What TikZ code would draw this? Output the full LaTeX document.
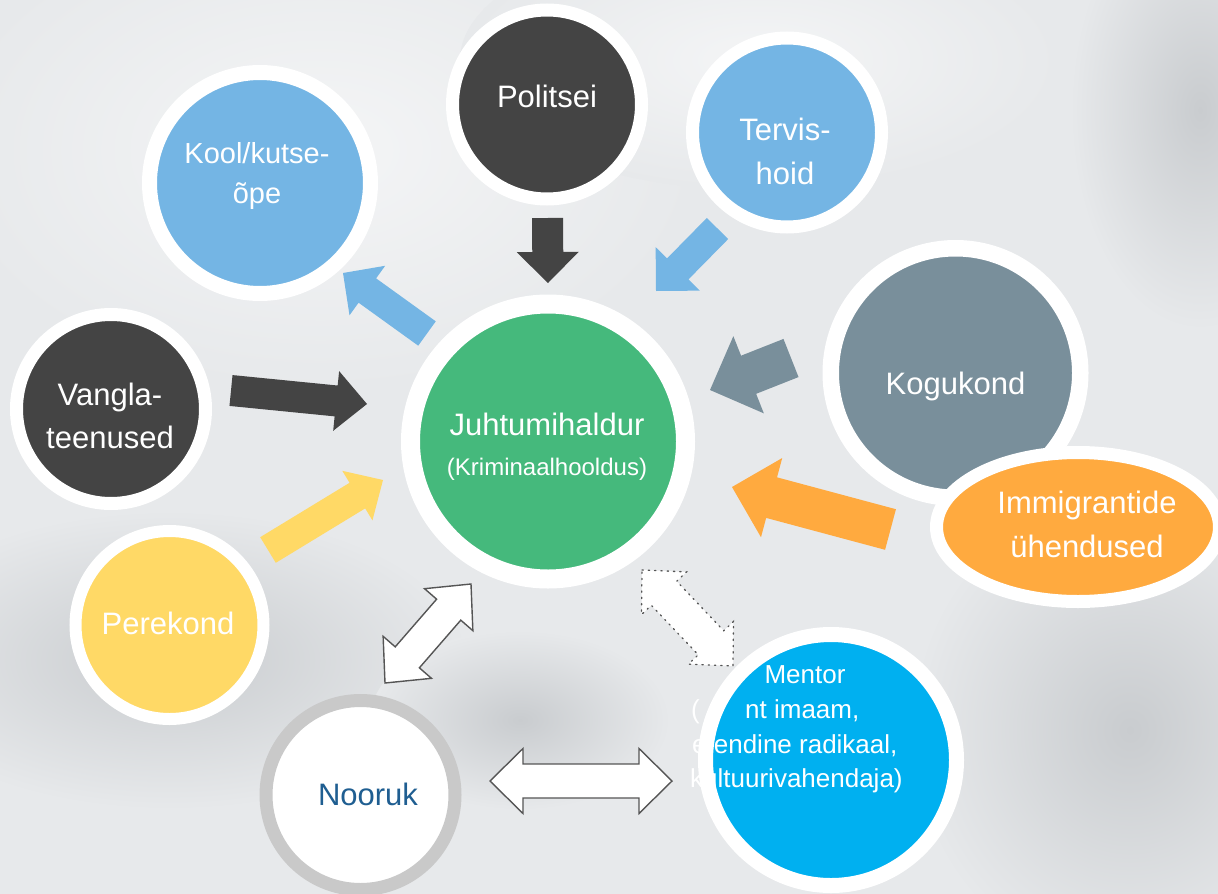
\documentclass[tikz,border=0pt]{standalone}
\usepackage{fontspec}
\setmainfont{Liberation Sans}
\usetikzlibrary{calc,shapes.geometric}
\definecolor{cdark}{HTML}{444444}
\definecolor{cblue}{HTML}{74B5E4}
\definecolor{cgreen}{HTML}{45B97C}
\definecolor{cslate}{HTML}{798F9B}
\definecolor{corange}{HTML}{FFAA3F}
\definecolor{cyellow}{HTML}{FFD966}
\definecolor{cmentor}{HTML}{00B0F0}
\definecolor{cnavy}{HTML}{1F5E91}
\definecolor{cring}{HTML}{C9C9C9}
\definecolor{cbg}{HTML}{E7E9EB}
\definecolor{cline}{HTML}{555555}
\definecolor{clight}{HTML}{F4F5F6}
\definecolor{cshadow}{HTML}{C9CCCF}
\newcommand\blockarr[6]{%
  \coordinate (bhA) at ($(#3)!#6!(#2)$);
  \path[#1] ($(#2)!#4!90:(#3)$) -- ($(bhA)!#4!90:(#3)$) -- ($(bhA)!#5!90:(#3)$) -- (#3)
    -- ($(bhA)!#5!-90:(#3)$) -- ($(bhA)!#4!-90:(#3)$) -- ($(#2)!#4!-90:(#3)$) -- cycle;
}
\newcommand\dblarr[6]{%
  \coordinate (bhA) at ($(#2)!#6!(#3)$);
  \coordinate (bhB) at ($(#3)!#6!(#2)$);
  \path[#1] (#2) -- ($(bhA)!#5!90:(#3)$) -- ($(bhA)!#4!90:(#3)$) -- ($(bhB)!#4!90:(#3)$)
    -- ($(bhB)!#5!90:(#3)$) -- (#3) -- ($(bhB)!#5!-90:(#3)$) -- ($(bhB)!#4!-90:(#3)$)
    -- ($(bhA)!#4!-90:(#3)$) -- ($(bhA)!#5!-90:(#3)$) -- cycle;
}
\tikzset{
  ringed/.style args={#1/#2/#3}{circle, fill=#1, draw=white, line width=#3pt, inner sep=0pt, minimum size=#2pt},
  txt/.style={text=white, inner sep=0pt, anchor=base, font=\fontsize{31}{37}\selectfont},
  stxt/.style={text=white, inner sep=0pt, anchor=base, font=\fontsize{26}{31}\selectfont},
  solidarr/.style={fill=#1},
  hollowarr/.style={fill=white, draw=cline, line width=1.4pt, line join=miter},
  dotarr/.style={fill=white, draw=cline, line width=1.3pt, dash pattern=on 1.3pt off 5pt, line cap=round},
  softlight/.style={inner color=clight, outer color=cbg},
  softdark/.style={inner color=cshadow, outer color=cbg},
}
\begin{document}
\begin{tikzpicture}[x=1pt,y=-1pt]
\useasboundingbox (0,0) rectangle (1218,894);
\clip (0,0) rectangle (1218,894);
% background (soft photo-like shading)
\fill[cbg] (0,0) rectangle (1218,894);
\shade[softlight] (320,150) ellipse [x radius=380, y radius=240];
\shade[softlight] (760,60) ellipse [x radius=300, y radius=130];
\shade[softdark] (170,660) ellipse [x radius=300, y radius=150];
\shade[softdark] (1130,730) ellipse [x radius=220, y radius=240];
\shade[softdark] (1200,110) ellipse [x radius=130, y radius=220];
\shade[softdark] (520,720) ellipse [x radius=150, y radius=90];

% arrow coordinates
\coordinate (aPolT) at (547.5,218);  \coordinate (aPolH) at (548,283);
\coordinate (aTerT) at (717.5,228.5); \coordinate (aTerH) at (656,291);
\coordinate (aKooT) at (427,333.5);  \coordinate (aKooH) at (343,273);
\coordinate (aVanT) at (231,390.5);  \coordinate (aVanH) at (367,404);
\coordinate (aPerT) at (268,550);    \coordinate (aPerH) at (383,480);
\coordinate (aKogT) at (791,358);    \coordinate (aKogH) at (710,390);
\coordinate (aImmT) at (890.5,529.5); \coordinate (aImmH) at (732,487);
\coordinate (dNooA) at (385,683);    \coordinate (dNooB) at (471,584);
\coordinate (dHorA) at (490,781);    \coordinate (dHorB) at (672,781);
\coordinate (dMenA) at (642,570);    \coordinate (dMenB) at (733,666);

\blockarr{solidarr=cdark}{aPolT}{aPolH}{15.5pt}{31pt}{31pt}
\blockarr{solidarr=cblue}{aTerT}{aTerH}{15pt}{31pt}{31pt}
\blockarr{solidarr=cblue}{aKooT}{aKooH}{15pt}{30.5pt}{30pt}
\blockarr{solidarr=cdark}{aVanT}{aVanH}{15.5pt}{30pt}{31pt}
\blockarr{solidarr=cyellow}{aPerT}{aPerH}{15pt}{29pt}{30pt}
\blockarr{solidarr=cslate}{aKogT}{aKogH}{20.5pt}{41.5pt}{41.5pt}
\blockarr{solidarr=corange}{aImmT}{aImmH}{21pt}{41pt}{41pt}
\dblarr{hollowarr}{dNooA}{dNooB}{16pt}{32pt}{34pt}
\dblarr{hollowarr}{dHorA}{dHorB}{17pt}{32.5pt}{33pt}
\dblarr{dotarr}{dMenA}{dMenB}{17.5pt}{31pt}{32pt}

% circles
\node[ringed=cblue/221/15] (kool) at (260,183) {};
\node[ringed=cdark/189/13] (politsei) at (547,104.5) {};
\node[ringed=cblue/189/13] (tervis) at (787,132.5) {};
\node[ringed=cdark/189/13] (vangla) at (111,409) {};
\node[ringed=cyellow/188/12] (perekond) at (169.5,625) {};
\node[ringed=cgreen/275/19] (juht) at (548,441.5) {};
\node[ringed=cslate/249.5/16.5] (kogukond) at (955.5,373) {};
\node[ellipse, fill=corange, draw=white, line width=13pt, inner sep=0pt,
      minimum width=283pt, minimum height=149pt] (immi) at (1078,527) {};
\node[circle, fill=white, draw=cring, line width=13pt, inner sep=0pt, minimum size=189pt] (nooruk) at (360.5,795) {};
\node[ringed=cmentor/251/15] (mentor) at (831,760) {};

% texts
\node[txt] (tPol) at (547,107) {Politsei};
\node[txt, font=\fontsize{29}{35}\selectfont] (tKoo1) at (257,163) {Kool/kutse-};
\node[txt, font=\fontsize{29}{35}\selectfont] (tKoo2) at (257,203) {õpe};
\node[txt] (tTer1) at (785,140) {Tervis-};
\node[txt] (tTer2) at (785,184) {hoid};
\node[txt] (tVan1) at (110,405) {Vangla-};
\node[txt] (tVan2) at (110,448) {teenused};
\node[txt] (tPer) at (168,634) {Perekond};
\node[txt] (tJuh1) at (547,435) {Juhtumihaldur};
\node[txt, font=\fontsize{24}{29}\selectfont] (tJuh2) at (547,475) {(Kriminaalhooldus)};
\node[txt] (tKog) at (955.5,394) {Kogukond};
\node[txt] (tImm1) at (1087,513) {Immigrantide};
\node[txt] (tImm2) at (1087,557) {ühendused};
\node[txt, text=cnavy] (tNoo) at (368,805) {Nooruk};
\node[stxt] (tMen1) at (805,683) {Mentor};
\node[stxt, anchor=base west] (tMen2a) at (691,718) {(};
\node[stxt, anchor=base west] (tMen2b) at (745,718) {nt imaam,};
\node[stxt, anchor=base west] (tMen3) at (692,753) {e endine radikaal,};
\node[stxt, anchor=base west] (tMen4) at (690,787) {kultuurivahendaja)};
\end{tikzpicture}
\end{document}
